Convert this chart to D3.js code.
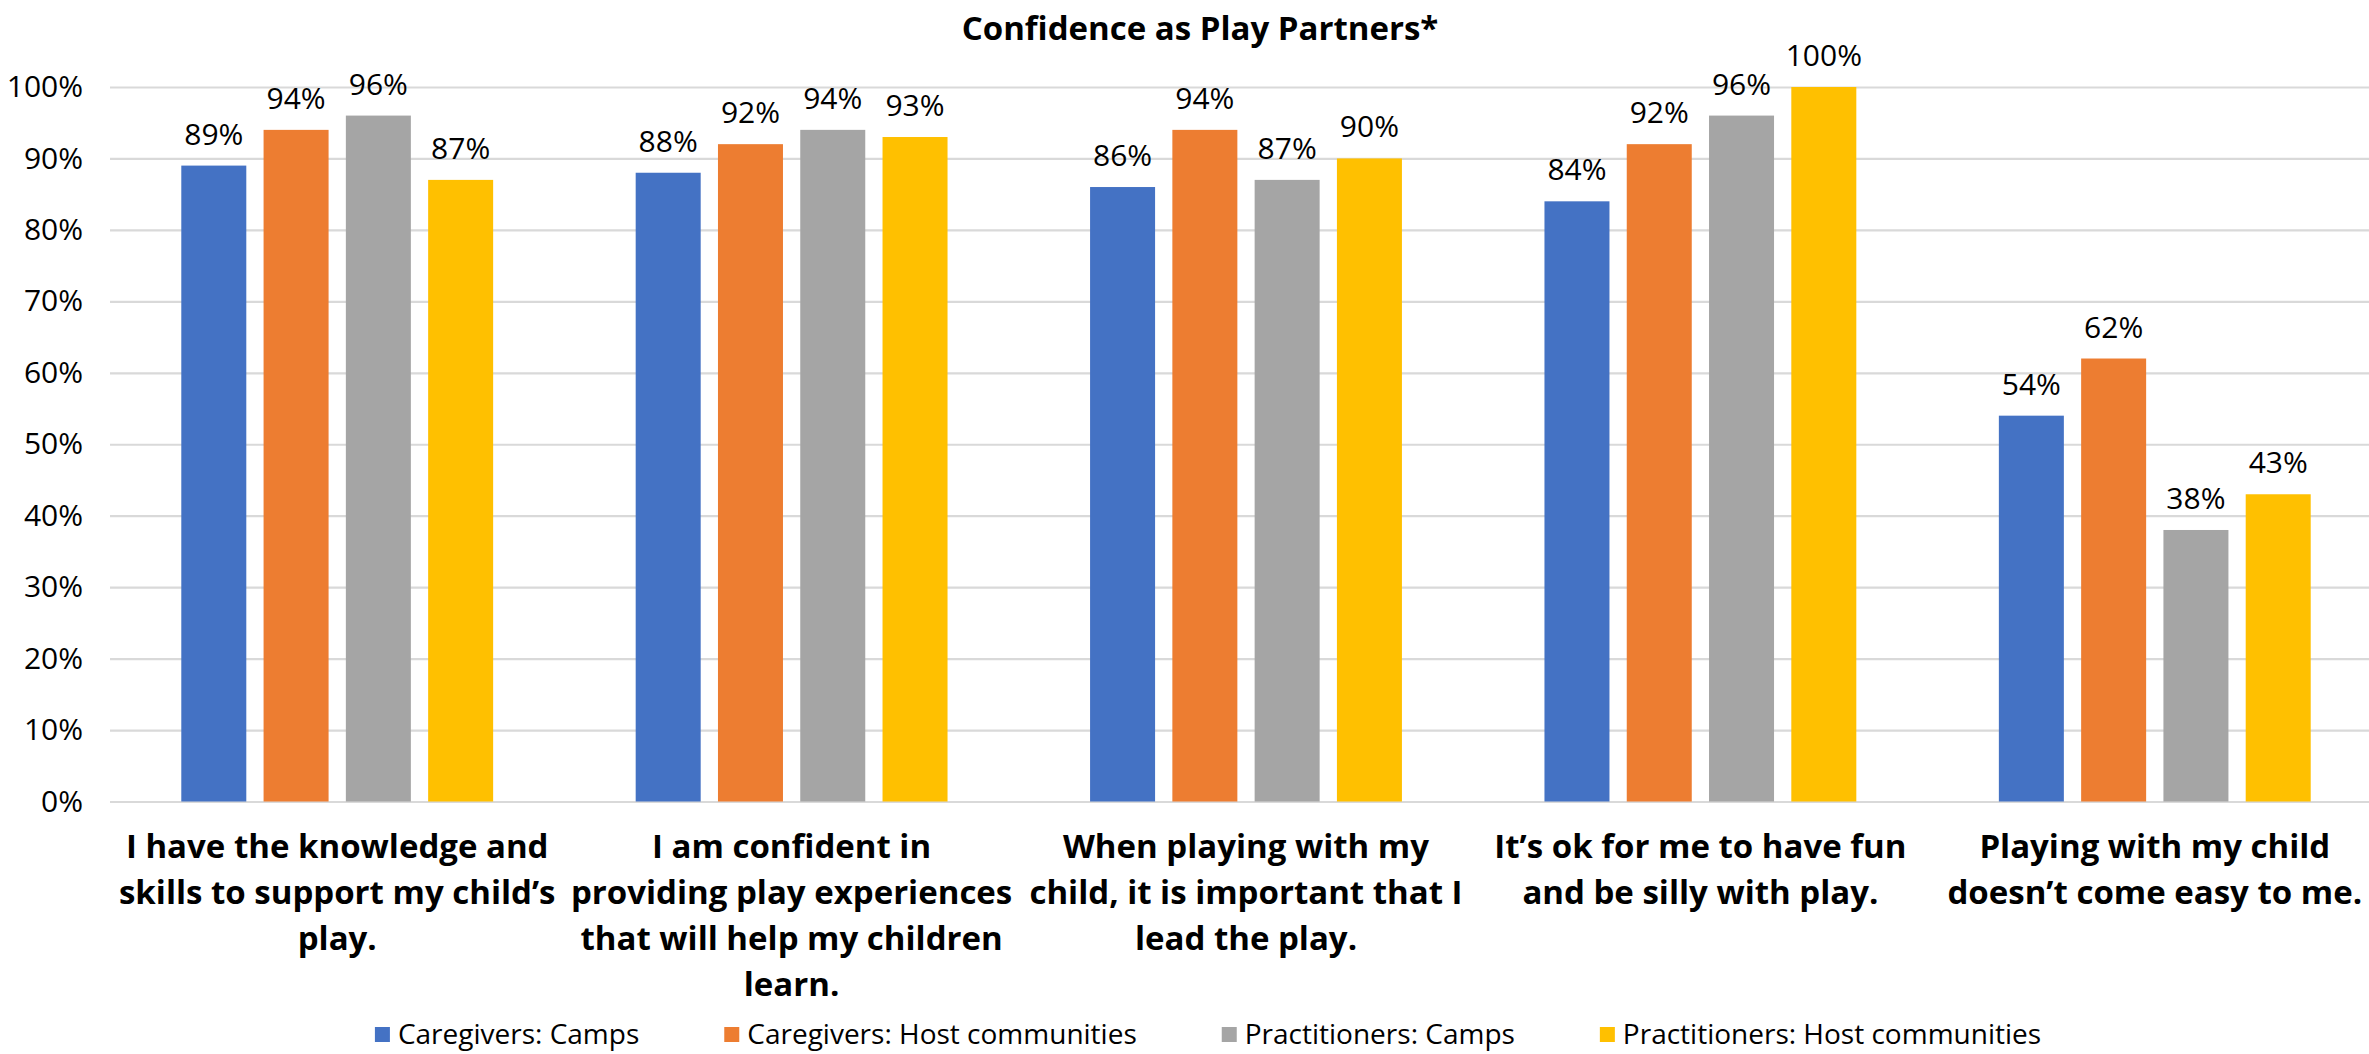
<!DOCTYPE html>
<html>
<head>
<meta charset="utf-8">
<script src="https://cdn.jsdelivr.net/npm/d3@7"></script>
<style>
  html, body { margin: 0; padding: 0; background: #fff; }
  svg { display: block; }
</style>
</head>
<body>
<script>
// Survey statements (pre-wrapped into display lines)
const categories = [
  ["I have the knowledge and", "skills to support my child’s", "play."],
  ["I am confident in", "providing play experiences", "that will help my children", "learn."],
  ["When playing with my", "child, it is important that I", "lead the play."],
  ["It’s ok for me to have fun", "and be silly with play."],
  ["Playing with my child", "doesn’t come easy to me."]
];

const seriesNames = [
  "Caregivers: Camps",
  "Caregivers: Host communities",
  "Practitioners: Camps",
  "Practitioners: Host communities"
];

const caregiversCamps          = [0.89, 0.88, 0.86, 0.84, 0.54];
const caregiversHost           = [0.94, 0.92, 0.94, 0.92, 0.62];
const practitionersCamps       = [0.96, 0.94, 0.87, 0.96, 0.38];
const practitionersHost        = [0.87, 0.93, 0.90, 1.00, 0.43];

const yTicks = [0, 0.1, 0.2, 0.3, 0.4, 0.5, 0.6, 0.7, 0.8, 0.9, 1.0];

const seriesColors = ["#4472C4", "#ED7D31", "#A5A5A5", "#FFC000"];
const seriesValues = [caregiversCamps, caregiversHost, practitionersCamps, practitionersHost];

const W = 2369, H = 1054;
const plotLeft = 110;

const svg = d3.select("body").append("svg")
  .attr("width", W).attr("height", H)
  .attr("viewBox", `0 0 ${W} ${H}`);

const x0 = d3.scaleBand()
  .domain(d3.range(categories.length))
  .range([plotLeft, 2382])
  .paddingInner(0.3137)
  .paddingOuter(0.1569);

const x1 = d3.scaleBand()
  .domain(d3.range(seriesNames.length))
  .range([0, x0.bandwidth()])
  .paddingInner(0.21);

const y = d3.scaleLinear().domain([0, 1]).range([801.5, 87]);

const color = d3.scaleOrdinal().domain(d3.range(seriesNames.length)).range(seriesColors);

// Title
svg.append("text")
  .attr("x", 1200).attr("y", 40)
  .attr("text-anchor", "middle")
  .style("font-family", "'Open Sans', sans-serif")
  .style("font-weight", 700)
  .style("font-size", "33px")
  .style("fill", "#000")
  .text("Confidence as Play Partners*");

// Y axis with full-width gridlines
const yAxis = d3.axisLeft(y)
  .tickValues(yTicks)
  .tickSize(-(W - plotLeft))
  .tickPadding(27)
  .tickFormat(d3.format(".0%"));

const gy = svg.append("g")
  .attr("transform", `translate(${plotLeft},0)`)
  .call(yAxis);
gy.select(".domain").remove();
gy.selectAll(".tick line").attr("stroke", "#d9d9d9").attr("stroke-width", 2.2);
gy.selectAll(".tick text")
  .style("font-family", "'Open Sans', sans-serif")
  .style("font-size", "30px")
  .style("fill", "#000");

// Bars
const rows = categories.map((c, i) => seriesValues.map((vals, s) => ({ cat: i, s, v: vals[i] })));

const groups = svg.append("g").selectAll("g")
  .data(rows).join("g")
  .attr("transform", (d, i) => `translate(${x0(i)},0)`);

groups.selectAll("rect")
  .data(d => d).join("rect")
  .attr("x", d => x1(d.s))
  .attr("width", x1.bandwidth())
  .attr("y", d => y(d.v))
  .attr("height", d => y(0) - y(d.v))
  .attr("fill", d => color(d.s));

groups.selectAll("text.val")
  .data(d => d).join("text")
  .attr("class", "val")
  .attr("x", d => x1(d.s) + x1.bandwidth() / 2)
  .attr("y", d => y(d.v) - 21)
  .attr("text-anchor", "middle")
  .style("font-family", "'Open Sans', sans-serif")
  .style("font-size", "30px")
  .style("fill", "#000")
  .text(d => d3.format(".0%")(d.v));

// Category labels
const catLabels = svg.append("g").selectAll("text")
  .data(categories).join("text")
  .attr("text-anchor", "middle")
  .style("font-family", "'Open Sans', sans-serif")
  .style("font-weight", 700)
  .style("font-size", "33px")
  .style("fill", "#000");

catLabels.selectAll("tspan")
  .data((lines, i) => lines.map(l => ({ l, i })))
  .join("tspan")
  .attr("x", d => x0(d.i) + x0.bandwidth() / 2)
  .attr("y", (d, k) => 858 + k * 46)
  .text(d => d.l);

// Legend
const legend = svg.append("g");
const items = legend.selectAll("g").data(seriesNames).join("g");
items.append("rect")
  .attr("width", 15).attr("height", 15)
  .attr("y", 1027)
  .attr("fill", (d, i) => color(i));
items.append("text")
  .attr("y", 1044)
  .style("font-family", "'Open Sans', sans-serif")
  .style("font-size", "28px")
  .style("fill", "#000")
  .text(d => d);

const legendGap = 85;
let cursor = 0;
const offsets = [];
items.each(function () {
  const t = d3.select(this).select("text");
  const w = t.node().getComputedTextLength();
  offsets.push(cursor);
  cursor += 15 + 8 + w + legendGap;
});
const totalW = cursor - legendGap;
const legendStart = 1208 - totalW / 2;
items.each(function (d, i) {
  const g = d3.select(this);
  g.select("rect").attr("x", legendStart + offsets[i]);
  g.select("text").attr("x", legendStart + offsets[i] + 23);
});
</script>
</body>
</html>
